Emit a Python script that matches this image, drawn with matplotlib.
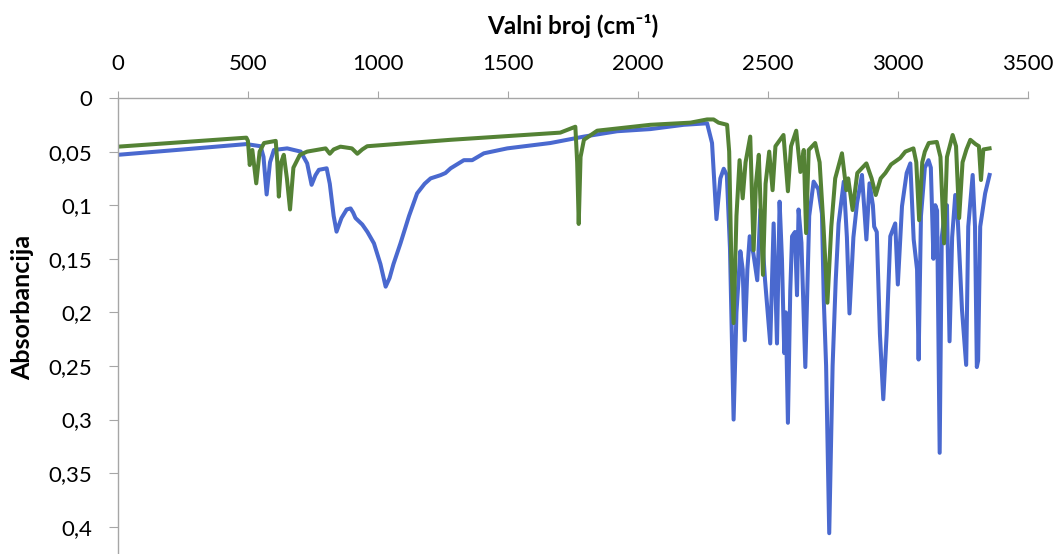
import matplotlib.pyplot as plt

plt.rcParams['font.family'] = ['Lato', 'DejaVu Sans']

# spectrum 1 (blue)
wn_blue = [0, 250, 494, 549, 560, 572, 585, 600, 651, 703, 728, 745, 760, 773, 803,
           815, 830, 841, 860, 880, 895, 905, 914, 940, 960, 985, 1010, 1030, 1045,
           1060, 1087, 1120, 1151, 1180, 1203, 1241, 1260, 1280, 1331, 1363, 1408,
           1498, 1664, 1793, 1921, 2049, 2177, 2267, 2286, 2303, 2318, 2331, 2343,
           2355, 2369, 2380, 2395, 2404, 2412, 2422, 2431, 2445, 2460, 2472, 2490,
           2510, 2523, 2536, 2546, 2555, 2564, 2570, 2578, 2587, 2594, 2605, 2613,
           2619, 2630, 2645, 2660, 2677, 2695, 2709, 2716, 2725, 2737, 2750, 2762,
           2773, 2793, 2805, 2815, 2830, 2844, 2863, 2880, 2892, 2905, 2910, 2920,
           2932, 2945, 2958, 2972, 2991, 3001, 3017, 3035, 3049, 3062, 3075, 3081,
           3090, 3105, 3119, 3128, 3138, 3145, 3152, 3162, 3170, 3183, 3190, 3200,
           3210, 3222, 3232, 3248, 3264, 3272, 3289, 3298, 3305, 3310, 3318, 3337,
           3354]
abs_blue = [0.053, 0.048, 0.043, 0.045, 0.055, 0.090, 0.060, 0.0485, 0.047, 0.050,
            0.061, 0.081, 0.072, 0.067, 0.0656, 0.080, 0.110, 0.1247, 0.112, 0.104,
            0.103, 0.107, 0.112, 0.118, 0.125, 0.1356, 0.155, 0.176, 0.168, 0.155,
            0.1356, 0.110, 0.089, 0.080, 0.075, 0.072, 0.070, 0.0656, 0.058, 0.058,
            0.0516, 0.047, 0.042, 0.036, 0.031, 0.029, 0.025, 0.0236, 0.042, 0.113,
            0.075, 0.066, 0.072, 0.140, 0.300, 0.200, 0.143, 0.160, 0.226, 0.160,
            0.129, 0.145, 0.170, 0.104, 0.170, 0.229, 0.117, 0.229, 0.0967, 0.150,
            0.238, 0.200, 0.303, 0.180, 0.129, 0.125, 0.184, 0.104, 0.135, 0.251,
            0.110, 0.078, 0.085, 0.108, 0.188, 0.250, 0.406, 0.250, 0.170, 0.117,
            0.078, 0.130, 0.201, 0.130, 0.098, 0.0718, 0.132, 0.0796, 0.100, 0.120,
            0.125, 0.220, 0.281, 0.220, 0.129, 0.117, 0.174, 0.101, 0.070, 0.061,
            0.132, 0.160, 0.244, 0.110, 0.065, 0.058, 0.065, 0.150, 0.100, 0.105,
            0.331, 0.130, 0.1045, 0.100, 0.227, 0.130, 0.0905, 0.115, 0.198, 0.249,
            0.120, 0.0718, 0.120, 0.251, 0.245, 0.120, 0.089, 0.0718]

# spectrum 2 (green)
wn_green = [0, 494, 500, 507, 517, 532, 545, 562, 607, 613, 619, 628, 638, 650, 662,
            675, 700, 728, 799, 815, 830, 856, 900, 921, 940, 959, 1280, 1702, 1760,
            1767, 1773, 1780, 1793, 1844, 2049, 2203, 2267, 2292, 2311, 2344, 2352,
            2360, 2369, 2380, 2392, 2404, 2415, 2433, 2446, 2455, 2466, 2482, 2492,
            2506, 2519, 2530, 2561, 2578, 2590, 2610, 2626, 2639, 2648, 2658, 2683,
            2700, 2715, 2730, 2745, 2760, 2786, 2803, 2810, 2827, 2845, 2880, 2900,
            2916, 2935, 2953, 2975, 3010, 3030, 3061, 3072, 3083, 3095, 3105, 3120,
            3151, 3165, 3179, 3190, 3212, 3225, 3237, 3250, 3265, 3280, 3300, 3313,
            3321, 3330, 3354]
abs_green = [0.0454, 0.037, 0.040, 0.0625, 0.0485, 0.0796, 0.050, 0.042, 0.040,
             0.060, 0.092, 0.060, 0.053, 0.075, 0.104, 0.065, 0.053, 0.050, 0.047,
             0.052, 0.048, 0.0454, 0.047, 0.052, 0.048, 0.045, 0.039, 0.0323, 0.0268,
             0.060, 0.1175, 0.055, 0.039, 0.0305, 0.025, 0.023, 0.020, 0.020, 0.023,
             0.025, 0.050, 0.150, 0.210, 0.110, 0.058, 0.0936, 0.060, 0.036, 0.142,
             0.080, 0.053, 0.165, 0.080, 0.050, 0.086, 0.045, 0.0345, 0.087, 0.045,
             0.0305, 0.069, 0.0485, 0.126, 0.0485, 0.042, 0.060, 0.120, 0.191, 0.120,
             0.075, 0.0516, 0.086, 0.075, 0.1045, 0.070, 0.061, 0.075, 0.0905, 0.075,
             0.070, 0.062, 0.056, 0.050, 0.047, 0.060, 0.114, 0.060, 0.050, 0.042,
             0.041, 0.055, 0.1356, 0.055, 0.0345, 0.045, 0.112, 0.060, 0.048, 0.039,
             0.043, 0.045, 0.0765, 0.048, 0.047]

x_ticks = [0, 500, 1000, 1500, 2000, 2500, 3000, 3500]
y_ticks = [0, 0.05, 0.1, 0.15, 0.2, 0.25, 0.3, 0.35, 0.4]
y_labels = ['0', '0,05', '0,1', '0,15', '0,2', '0,25', '0,3', '0,35', '0,4']

fig = plt.figure(figsize=(10.59, 5.54), dpi=100)
ax = fig.add_axes([118 / 1059, 0, 909.5 / 1059, 1 - 98 / 554])

ax.plot(wn_blue, abs_blue, color='#4A69CF', lw=2.9, solid_joinstyle='round')
ax.plot(wn_green, abs_green, color='#548235', lw=2.9, solid_joinstyle='round')

ax.set_xlim(0, 3500)
ax.set_ylim(0.4254, 0)

ax.xaxis.tick_top()
ax.xaxis.set_label_position('top')
ax.set_xticks(x_ticks)
ax.set_yticks(y_ticks)
ax.set_yticklabels(y_labels)

for s in ['right', 'bottom']:
    ax.spines[s].set_visible(False)
for s in ['left', 'top']:
    ax.spines[s].set_color('#A6A6A6')
    ax.spines[s].set_linewidth(1)

ax.tick_params(axis='x', direction='out', length=5, color='#A6A6A6',
               labelsize=16, pad=12, labelcolor='#000000')
ax.tick_params(axis='y', direction='out', length=6.5, color='#A6A6A6',
               labelsize=16, pad=12, labelcolor='#000000')

ax.set_xlabel('Valni broj (cm⁻¹)', fontsize=17.5, fontweight='bold', va='center')
ax.xaxis.set_label_coords(0.5, 1 + 72 / 456)
ax.set_ylabel('Absorbancija', fontsize=18, fontweight='bold', va='center')
ax.yaxis.set_label_coords((23 - 118) / 909.5, 1 - (307 - 98) / 456)

fig.savefig('out.png', dpi=100)
